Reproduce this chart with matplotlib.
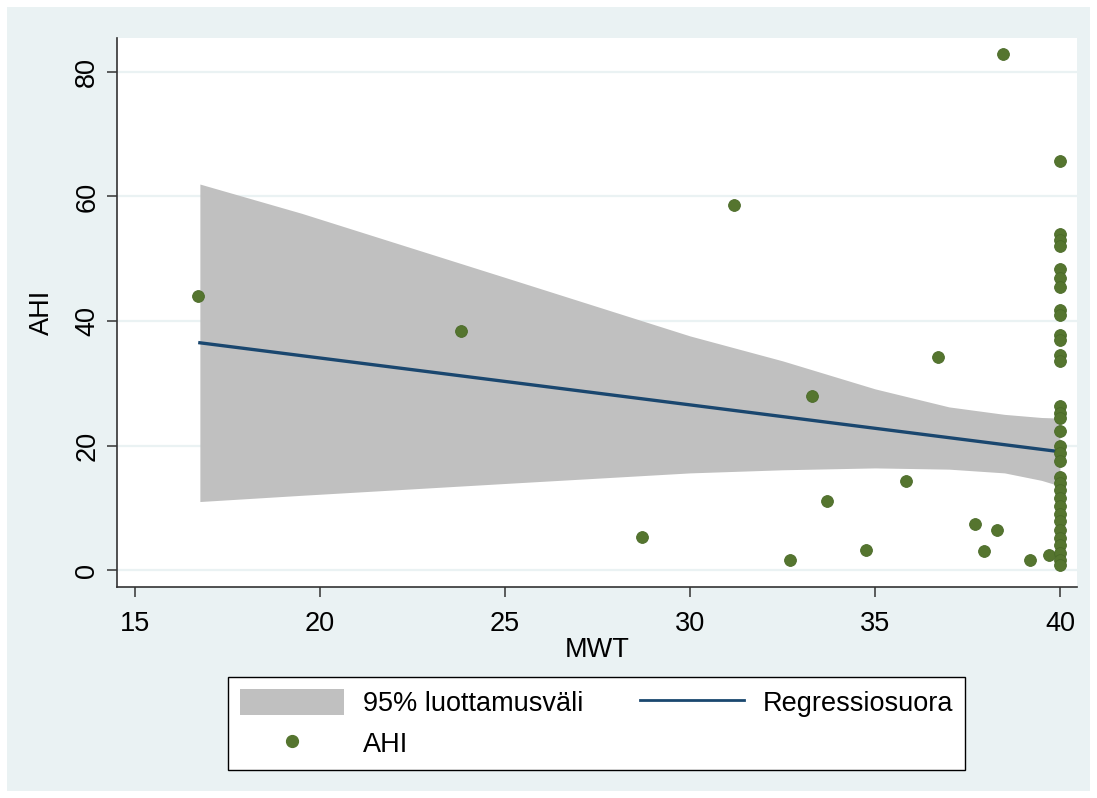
import numpy as np
import matplotlib
matplotlib.use('Agg')
import matplotlib.pyplot as plt
from matplotlib.patches import Rectangle, Patch
from matplotlib.lines import Line2D

plt.rcParams['font.family'] = ['Liberation Sans', 'DejaVu Sans']

# scatter data (MWT, AHI)
mwt = [16.7, 23.8, 28.7, 31.2, 32.7, 33.3, 33.7, 34.75, 35.85, 36.7,
       37.7, 37.95, 38.3, 38.45, 39.2, 39.7]
ahi = [44.0, 38.4, 5.3, 58.6, 1.6, 28.0, 11.1, 3.2, 14.3, 34.2,
       7.4, 3.1, 6.4, 82.9, 1.6, 2.4]
# the column at MWT = 40
ahi_40 = [65.7, 54.0, 53.0, 52.0, 48.3, 46.9, 45.5, 41.8, 41.0, 37.8, 37.0,
          34.5, 33.6, 26.4, 25.2, 24.4, 22.3, 20.0, 18.8, 17.5, 15.0,
          14.0, 12.8, 11.5, 10.3, 9.0, 7.8, 6.5, 5.2, 4.0, 2.8, 1.6, 0.8]

# regression line end points
fit_x = [16.75, 40.0]
fit_y = [36.5, 19.0]

# 95% band edges read at a few x positions
band_x = [16.75, 19.5, 25.0, 30.0, 32.5, 35.0, 37.0, 38.5, 39.5, 40.0]
band_hi = [62.0, 57.3, 47.0, 37.6, 33.6, 29.1, 26.2, 25.0, 24.5, 24.4]
band_lo = [11.0, 12.0, 13.9, 15.6, 16.1, 16.4, 16.2, 15.6, 14.4, 13.5]

bg = '#EAF2F3'
green = '#55752F'
navy = '#1A476F'
gray = '#C0C0C0'
fs = 19.5

fig = plt.figure(figsize=(10.97, 7.98), dpi=100, facecolor='white')
fig.patches.append(Rectangle((7/1097, 7/798), 1083/1097, 784/798,
                             transform=fig.transFigure, facecolor=bg,
                             edgecolor='none', zorder=-5))
ax = fig.add_axes([117/1097, 1-587/798, 960/1097, 549/798])
ax.set_facecolor('white')

ax.fill_between(band_x, band_lo, band_hi, color=gray, lw=0, zorder=2)
ax.plot(fit_x, fit_y, color=navy, lw=2.4, zorder=3)
ax.plot(mwt + [40]*len(ahi_40), ahi + ahi_40, 'o', color=green,
        markersize=8.5, markeredgecolor='#4A6A28', markeredgewidth=0.6,
        zorder=4)

ax.set_xlim(14.51, 40.46)
ax.set_ylim(-2.73, 85.46)
ax.set_xticks([15, 20, 25, 30, 35, 40])
ax.set_yticks([0, 20, 40, 60, 80])
ax.grid(axis='y', color=bg, lw=1.6, zorder=1)
ax.set_axisbelow(True)

for s in ['top', 'right']:
    ax.spines[s].set_visible(False)
for s in ['left', 'bottom']:
    ax.spines[s].set_color('#333333')
    ax.spines[s].set_linewidth(1.2)

ax.tick_params(axis='both', direction='out', length=7, width=1.1,
               color='#333333', labelsize=fs)
ax.tick_params(axis='x', pad=10)
ax.tick_params(axis='y', pad=5)
for lab in ax.get_yticklabels():
    lab.set_rotation(90)
    lab.set_va('center')

ax.set_xlabel('MWT', fontsize=fs, labelpad=0.5)
ax.set_ylabel('AHI', fontsize=fs, labelpad=14)

handles = [Patch(facecolor=gray, edgecolor='none'),
           Line2D([], [], marker='o', ls='none', color=green, markersize=8.5),
           Line2D([], [], color=navy, lw=2)]
labels = ['95% luottamusväli', 'AHI', 'Regressiosuora']
leg = fig.legend(handles, labels, ncol=2, loc='upper left', mode='expand',
                 bbox_to_anchor=(228/1097, 1-677/798, 737/1097, 0),
                 fontsize=fs, frameon=True, fancybox=False,
                 edgecolor='black', facecolor='white', framealpha=1,
                 handlelength=3.85, handleheight=1.1, handletextpad=0.67,
                 columnspacing=2.0, borderpad=0.45, labelspacing=0.45,
                 borderaxespad=0)
leg.get_frame().set_linewidth(1.0)

fig.savefig('out.png', dpi=100, facecolor='white')
